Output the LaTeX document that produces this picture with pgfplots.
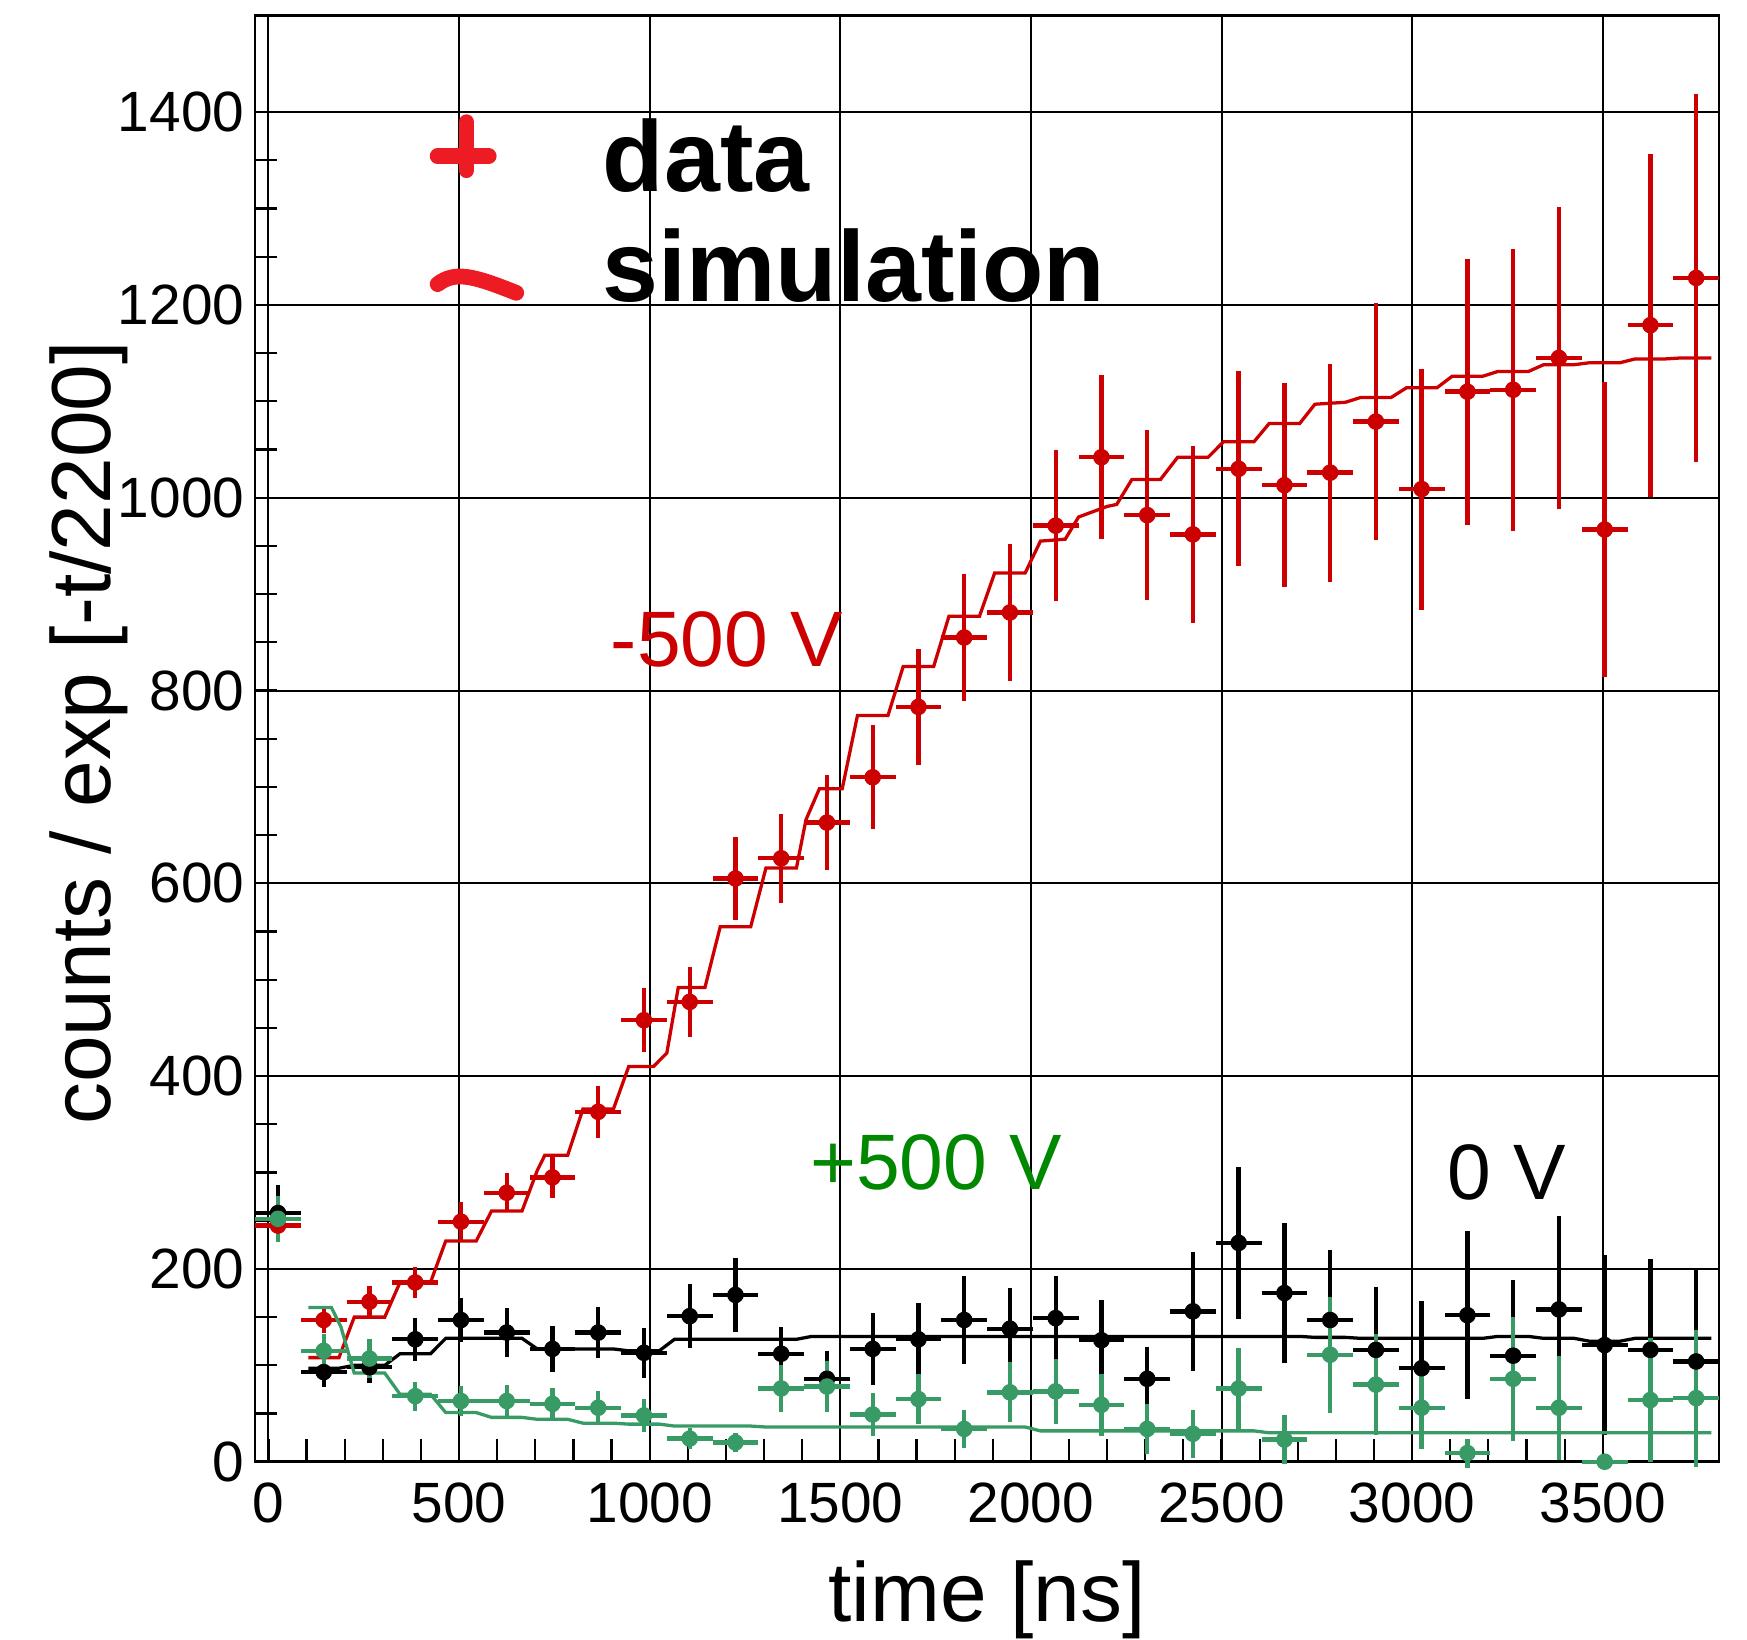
\documentclass[border=0pt]{standalone}
\usepackage{fontspec}
\setmainfont{Liberation Sans}
\usepackage{pgfplots}
\pgfplotsset{compat=1.18}
\usepackage{pgfplotstable}
\definecolor{rootred}{RGB}{204,0,0}
\definecolor{rootgreen}{RGB}{56,154,100}
\definecolor{labgreen}{RGB}{0,136,0}
\definecolor{legred}{RGB}{237,28,36}

\pgfplotstableread{
x y ey
25 245 15
145 147 13
265 166 16
385 186 16
505 249 20
625 279 20
745 295 21
865 363 27
985 458 33
1105 477 36
1225 605 43
1345 626 46
1465 663 49
1585 710 54
1705 783 60
1825 855 66
1945 881 71
2065 971 78
2185 1042 85
2305 982 88
2425 962 92
2545 1030 101
2665 1013 106
2785 1026 113
2905 1079 123
3025 1009 125
3145 1110 138
3265 1112 146
3385 1145 157
3505 967 153
3625 1179 178
3745 1228 191
}\reddata

\pgfplotstableread{
x y ey
25 258 29
145 93 15
265 98 16
385 127 22
505 147 23
625 134 25
745 117 24
865 134 26
985 113 26
1105 151 33
1225 173 38
1345 112 28
1465 86 29
1585 117 37
1705 127 38
1825 147 46
1945 138 42
2065 149 44
2185 126 42
2305 86 33
2425 156 62
2545 227 79
2665 175 73
2785 147 73
2905 116 65
3025 97 70
3145 152 87
3265 110 79
3385 158 97
3505 121 93
3625 116 94
3745 104 95
}\blackdata

\pgfplotstableread{
x y ey
25 252 24
145 115 17
265 107 20
385 68 15
505 63 16
625 63 17
745 60 17
865 56 17
985 48 17
1105 24 11
1225 20 10
1345 76 24
1465 78 26
1585 49 22
1705 65 26
1825 34 20
1945 72 31
2065 73 34
2185 59 32
2305 34 26
2425 29 25
2545 76 42
2665 23 25
2785 111 60
2905 80 52
3025 56 43
3145 9 15
3265 86 64
3385 56 54
3505 0 0
3625 64 64
3745 66 71
}\greendata

\begin{document}
\begin{tikzpicture}
\begin{axis}[
  scale only axis, width=335.1pt, height=331pt,
  at={(0pt,0pt)}, anchor=south west,
  xmin=-35, xmax=3805, ymin=0, ymax=1500,
  xtick={0,500,...,3500}, ytick={0,200,...,1400},
  minor x tick num=4, minor y tick num=3,
  tick pos=left, tick align=inside,
  major tick length=5.1pt, minor tick length=5.1pt,
  grid=major, major grid style={black, line width=0.45pt},
  axis line style={black, line width=0.6pt},
  every tick/.style={black, line width=0.5pt},
  /pgf/number format/assume math mode=true,
  /pgf/number format/1000 sep={},
  tick label style={font=\fontsize{13}{15}\selectfont},
  xticklabel style={inner sep=0pt, anchor=north, yshift=-4.6pt},
  yticklabel style={inner sep=0pt, anchor=east, xshift=-2.3pt},
  xlabel={time [ns]}, ylabel={counts / exp [-t/2200]},
  label style={font=\fontsize{19.2}{22}\selectfont},
  xlabel style={at={(rel axis cs:0.5,-0.0678)}, anchor=north, inner sep=0pt},
  ylabel style={at={(rel axis cs:-0.086,0.504)}, anchor=south, inner sep=0pt},
  clip=false,
  legend style={at={(rel axis cs:0.1187,0.9357)}, anchor=north west, draw=none, fill=none,
    inner sep=0pt, font=\fontsize{23}{25}\selectfont\bfseries, row sep=3.2pt,
    /tikz/every odd column/.append style={column sep=16pt}},
  legend cell align=left,
]
\addlegendimage{legend image code/.code={
  \draw[legred, line width=3.6pt, line cap=round] (0pt,0.4pt) -- (11.7pt,0.4pt);
  \draw[legred, line width=3.6pt, line cap=round] (6.6pt,-2.8pt) -- (6.6pt,8.2pt);}}
\addlegendentry{data}
\addlegendimage{legend image code/.code={
  \draw[legred, line width=3.6pt, line cap=round] (0pt,-3.5pt) .. controls (4pt,-0.5pt) and (8pt,-1.5pt) .. (18pt,-5.5pt);}}
\addlegendentry{simulation}

% black simulation
\addplot[forget plot, black, line width=0.75pt] coordinates {
(105,97) (185,97) (225,100) (305,100) (345,112) (425,112) (465,128) (545,128)
(585,128) (665,128) (705,117) (785,117) (825,117) (905,117) (945,115) (1025,115)
(1065,127) (1145,127) (1185,127) (1265,127) (1305,127) (1385,127) (1425,130) (1505,130)
(1545,130) (1625,130) (1665,130) (1745,130) (1785,130) (1865,130) (1905,130) (1985,130)
(2025,130) (2105,130) (2145,130) (2225,130) (2265,130) (2345,130) (2385,130) (2465,130)
(2505,130) (2585,130) (2625,130) (2705,130) (2745,129) (2825,129) (2865,128) (2945,128)
(2985,128) (3065,128) (3105,128) (3185,128) (3225,130) (3305,130) (3345,128) (3425,128)
(3465,125) (3545,125) (3585,128) (3665,128) (3705,128) (3785,128)};
\addplot[forget plot, only marks, black, mark=*, mark size=1.7pt,
  error bars/.cd, x dir=both, x fixed=60, y dir=both, y explicit,
  error mark=none, error bar style={line width=1pt}]
  table[x=x, y=y, y error=ey] {\blackdata};

% red simulation
\addplot[forget plot, rootred, line width=0.75pt] coordinates {
(105,108) (185,108) (225,150) (305,150) (345,186) (425,186) (465,229) (545,229)
(585,260) (665,260) (705,302) (725,318) (785,318) (825,366) (905,366)
(945,410) (1010,410) (1045,424) (1075,492) (1145,492) (1185,555) (1265,555)
(1305,616) (1385,616) (1410,666) (1445,698) (1505,698) (1545,774) (1625,774)
(1665,825) (1745,825) (1785,877) (1865,877) (1905,922) (1985,922)
(2025,955) (2090,957) (2125,980) (2200,991) (2225,993) (2265,1019) (2340,1019)
(2385,1042) (2465,1042) (2505,1058) (2585,1058) (2625,1077) (2705,1077)
(2745,1097) (2825,1099) (2865,1104) (2945,1104) (2985,1114) (3065,1114)
(3105,1126) (3185,1126) (3225,1131) (3305,1131) (3345,1138) (3425,1138)
(3465,1140) (3545,1140) (3585,1144) (3665,1144) (3705,1145) (3785,1145)};
\addplot[forget plot, only marks, rootred, mark=*, mark size=1.7pt,
  error bars/.cd, x dir=both, x fixed=60, y dir=both, y explicit,
  error mark=none, error bar style={line width=1pt}]
  table[x=x, y=y, y error=ey] {\reddata};

% green simulation
\addplot[forget plot, rootgreen, line width=0.75pt] coordinates {
(105,160) (165,160) (190,140) (225,92) (305,92) (345,70) (425,70) (465,51) (545,51)
(585,46) (665,46) (705,44) (785,44) (825,40) (905,40) (945,39) (1025,39)
(1065,37) (1145,37) (1185,37) (1265,37) (1305,36) (1385,36) (1425,36) (1505,36)
(1545,36) (1625,36) (1665,36) (1745,36) (1785,36) (1865,36) (1905,36) (1985,36)
(2025,32) (2105,32) (2145,32) (2225,32) (2265,32) (2345,32) (2385,32) (2465,32)
(2505,32) (2585,32) (2625,30) (2705,30) (2745,30) (2825,30) (2865,30) (2945,30)
(2985,30) (3065,30) (3105,30) (3185,30) (3225,30) (3305,30) (3345,30) (3425,30)
(3465,30) (3545,30) (3585,30) (3665,30) (3705,30) (3785,30)};
\addplot[forget plot, only marks, rootgreen, mark=*, mark size=1.7pt,
  error bars/.cd, x dir=both, x fixed=60, y dir=both, y explicit,
  error mark=none, error bar style={line width=1pt}]
  table[x=x, y=y, y error=ey] {\greendata};

\node[anchor=base west, inner sep=0pt, text=rootred, font=\fontsize{18}{20}\selectfont] at (axis cs:896,825) {-500 V};
\node[anchor=base west, inner sep=0pt, text=labgreen, font=\fontsize{18}{20}\selectfont] at (axis cs:1419,282) {+500 V};
\node[anchor=base west, inner sep=0pt, text=black, font=\fontsize{18}{20}\selectfont] at (axis cs:3091,272) {0 V};
\end{axis}
\path (-58.4pt,-40.8pt) rectangle (341.5pt,334.6pt);
\end{tikzpicture}
\end{document}
